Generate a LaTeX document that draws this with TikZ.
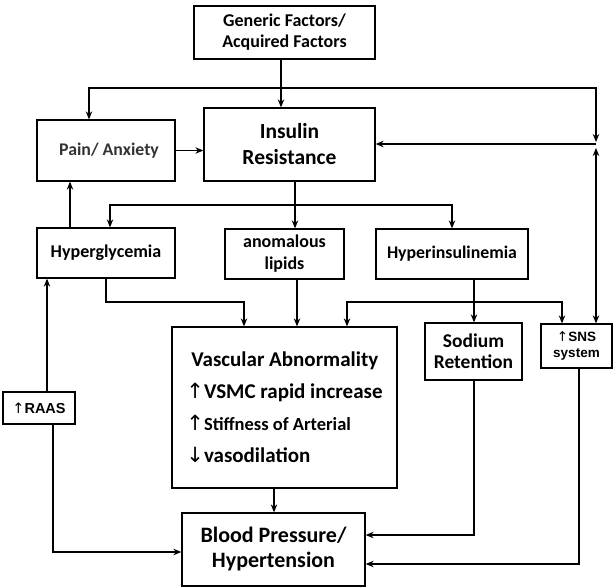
\documentclass[tikz,border=0pt]{standalone}
\usepackage{fontspec}
\setmainfont{Carlito}
\newfontfamily\arial{Liberation Sans}
\newfontfamily\dv{DejaVu Sans}
\usetikzlibrary{arrows.meta}
\newcommand{\upa}{{\dv\mdseries ↑}}
\newcommand{\downa}{{\dv\mdseries ↓}}
\tikzset{
  box/.style={draw, line width=1.3pt, inner sep=0pt, align=center, font=\bfseries},
  arr/.style={line width=1.1pt, -{Stealth[length=8pt,width=6.5pt]}},
  ln/.style={line width=1.1pt},
  dbl/.style={line width=1.1pt, {Stealth[length=8pt,width=6.5pt]}-{Stealth[length=8pt,width=6.5pt]}}
}
\begin{document}
\begin{tikzpicture}[x=1pt,y=-1pt]
\useasboundingbox (0,0) rectangle (614,587);
% boxes
\node[box, minimum width=181pt, minimum height=53pt, font=\bfseries\fontsize{18}{21}\selectfont] (gen) at (284.5,32.5) {Generic Factors/\\Acquired Factors};
\node[box, minimum width=171pt, minimum height=73pt, font=\bfseries\fontsize{21.5}{26}\selectfont] (ins) at (289.5,144.5) {Insulin\\Resistance};
\node[box, minimum width=138pt, minimum height=61pt, font=\bfseries\fontsize{17.8}{21}\selectfont, text=black!80] (pain) at (106,150.5) {\hspace*{6pt}Pain/ Anxiety};
\node[box, minimum width=138pt, minimum height=50pt, font=\bfseries\fontsize{18}{21}\selectfont] (hgly) at (106,253) {Hyperglycemia};
\node[box, minimum width=119pt, minimum height=50pt, font=\bfseries\fontsize{18}{22}\selectfont] (lip) at (284.5,254) {anomalous\\lipids};
\node[box, minimum width=152pt, minimum height=50pt, font=\bfseries\fontsize{17.8}{21}\selectfont] (hins) at (452,254) {Hyperinsulinemia};
\node[box, minimum width=225pt, minimum height=161pt, align=left, font=\bfseries\fontsize{21}{32}\selectfont] (vasc) at (284.5,407.5)
  {\hspace*{5pt}Vascular Abnormality\\
   \upa VSMC rapid increase\\
   \upa{\fontsize{18.5}{32}\selectfont Stiffness of Arterial}\\
   \downa vasodilation};
\node[box, minimum width=97pt, minimum height=57pt, font=\bfseries\fontsize{19.5}{21}\selectfont] (sod) at (473.5,351.5) {Sodium\\Retention};
\node[box, minimum width=71pt, minimum height=44pt, font=\arial\bfseries\fontsize{13.5}{16}\selectfont] (sns) at (576.5,346) {\upa SNS\\system};
\node[box, minimum width=72pt, minimum height=32pt, font=\arial\bfseries\fontsize{14.5}{16}\selectfont] (raas) at (39,408) {\upa RAAS};
\node[box, minimum width=183pt, minimum height=73pt, font=\bfseries\fontsize{22}{25}\selectfont] (bp) at (273.5,549.5) {Blood Pressure/\\Hypertension};
% junction points
\coordinate (jt) at (281,88);
\coordinate (jr) at (596,144);
\coordinate (sp) at (295,205);
\coordinate (hj) at (474,302);
% connectors
\draw[arr] ([xshift=-3.5pt]gen.south) -- (jt |- ins.north);
\draw[arr] (jt) -| ([xshift=-17pt]pain.north);
\draw[arr] (jt) -| ([yshift=2pt]jr);
\draw[arr] (jr) -- (jr -| ins.east);
\draw[dbl] ([yshift=-4pt]jr) -- ([xshift=19.5pt]sns.north);
\draw[arr] (pain.east) -- (pain.east -| ins.west);
\draw[arr] ([xshift=-36pt]hgly.north) -- ([xshift=-36pt]pain.south);
\draw[ln] (sp |- ins.south) -- (sp);
\draw[arr] (sp) -- (sp |- lip.north);
\draw[arr] (sp) -| ([xshift=4pt]hgly.north);
\draw[arr] (sp) -| (hins.north);
\draw[arr] (hgly.south) |- ([xshift=-40.5pt]vasc.north |- hj) -- ([xshift=-40.5pt]vasc.north);
\draw[arr] ([xshift=12.5pt]lip.south) -- ([xshift=12.5pt]vasc.north);
\draw[arr] ([xshift=22pt]hins.south) -- (hj |- sod.north);
\draw[arr] (hj) -| ([xshift=62.5pt]vasc.north);
\draw[arr] (hj) -| ([xshift=-14.5pt]sns.north);
\draw[arr] ([xshift=8pt]raas.north) -- ([xshift=8pt]raas.north |- hgly.south);
\draw[arr] ([xshift=14pt]raas.south) |- ([yshift=-2.5pt]bp.west);
\draw[arr] ([xshift=-10.5pt]vasc.south) -- ([xshift=-10.5pt]vasc.south |- bp.north);
\draw[arr] ([xshift=0.5pt]sod.south) |- ([yshift=14.5pt]bp.east);
\draw[arr] ([xshift=2.5pt]sns.south) |- ([yshift=-14.5pt]bp.east);
\end{tikzpicture}
\end{document}
